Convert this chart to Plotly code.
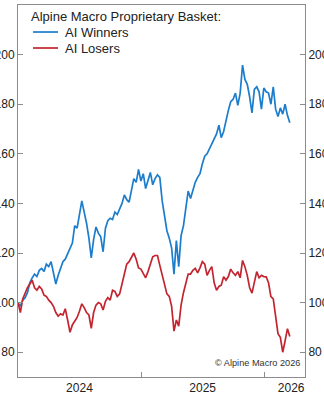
import pandas as pd
import plotly.graph_objects as go

# Weekly index levels (start = 100)
ai_winners = [
    100, 98.5, 101, 102, 104, 108, 110, 111.5, 110.5, 113,
    113.8, 112.5, 115.5, 114.5, 116.5, 111.5, 107.5, 111, 113.5, 116.5,
    117.5, 119.5, 122, 124, 131, 130, 135.5, 141, 136.5, 132,
    126, 118, 125.5, 130.5, 128, 126.5, 120.5, 130, 133, 134,
    133.5, 136.5, 135.5, 138, 140, 143.4, 141.5, 140.5, 146, 150,
    148.5, 153.7, 149, 152, 146, 149, 152.5, 147.5, 150, 151.5,
    150.5, 141, 134, 129, 126, 122, 111.5, 125, 114.5, 127,
    131, 138, 145, 142, 145, 148.5, 150.5, 152, 156, 159,
    160, 162, 164, 165.5, 168, 171.5, 166.5, 169, 174, 177.5,
    181, 182, 184.5, 179.5, 184.5, 195.8, 190, 188, 183, 176.5,
    186, 187, 185, 178, 186.5, 185, 184.5, 180, 187, 178,
    175, 178.5, 176, 180, 175.5, 172.5,
]
ai_losers = [
    100, 96, 101.5, 104, 106, 107.5, 109, 106, 105, 106.5,
    105.5, 103, 102.5, 101, 100, 98.5, 96, 94.5, 95.5, 95,
    97.5, 93, 88, 91, 92.5, 94, 96.5, 99.5, 98, 96,
    95, 89.6, 96, 99, 100, 99.5, 97, 100.5, 102, 101,
    105, 104.5, 102.5, 103.5, 107.5, 111.8, 115.5, 116.5, 118, 120,
    117.5, 114, 113.5, 111.5, 110, 112.5, 116, 118.5, 119, 119,
    115, 111.5, 107, 103.5, 102.5, 98.5, 88.5, 93, 90.5, 99,
    104, 108, 111.5, 111.5, 113, 113.8, 112, 114, 116.5, 115.5,
    111, 113, 114.5, 108, 105, 106.5, 107, 110.4, 109, 110.5,
    113.5, 112, 111, 112.5, 110, 117, 114.5, 111, 106, 103.8,
    108, 112.5, 110, 111, 110.5, 110.4, 108, 102.4, 101.5, 95,
    87.5, 86, 80, 84.5, 89.5, 86.3,
]
dates = pd.date_range("2024-01-01", periods=len(ai_winners), freq="7D")

series_names = ["AI Winners", "AI Losers"]
legend_title = "Alpine Macro Proprietary Basket:"
y_ticks = [80, 100, 120, 140, 160, 180, 200]
x_label_dates = ["2024-07-01", "2025-07-01", "2026-03-20"]
x_label_text = ["2024", "2025", "2026"]
year_starts = ["2025-01-01", "2026-01-01"]

BLUE = "#1b7dcc"
RED = "#c32530"
AXIS = "#8c8c8c"
TXT = "#222222"
FONT = "Arial, Liberation Sans, sans-serif"

fig = go.Figure()
fig.add_trace(go.Scatter(x=dates, y=ai_winners, mode="lines", name=series_names[0],
                         line=dict(color=BLUE, width=1.7)))
fig.add_trace(go.Scatter(x=dates, y=ai_losers, mode="lines", name=series_names[1],
                         line=dict(color=RED, width=1.7)))
fig.add_trace(go.Scatter(x=dates, y=ai_losers, mode="lines", yaxis="y2",
                         showlegend=False, hoverinfo="skip",
                         line=dict(color="rgba(0,0,0,0)", width=0)))

# Legend drawn as paper-positioned text and short line samples
legend_rows = [(0.9274, BLUE, series_names[0]), (0.8844, RED, series_names[1])]
shapes = []
annotations = [dict(
    text=legend_title, xref="paper", yref="paper", x=0.040, y=0.9704,
    xanchor="left", yanchor="middle", showarrow=False,
    font=dict(size=13, color=TXT),
)]
for ypos, col, name in legend_rows:
    shapes.append(dict(type="line", xref="paper", yref="paper",
                       x0=0.0523, x1=0.1394, y0=ypos, y1=ypos,
                       line=dict(color=col, width=1.7)))
    annotations.append(dict(
        text=name, xref="paper", yref="paper", x=0.157, y=ypos,
        xanchor="left", yanchor="middle", showarrow=False,
        font=dict(size=13, color=TXT),
    ))
annotations.append(dict(
    text="© Alpine Macro 2026", xref="paper", yref="paper",
    x=0.99, y=0.038, xanchor="right", yanchor="middle",
    showarrow=False, font=dict(size=9.2, color="#333"),
))

fig.update_layout(
    width=324, height=400,
    margin=dict(l=18, r=19, t=5, b=23),
    paper_bgcolor="white", plot_bgcolor="white",
    font=dict(family=FONT, size=12, color=TXT),
    showlegend=False,
    shapes=shapes,
    annotations=annotations,
    xaxis=dict(
        type="date", range=["2024-01-01", "2026-04-30"],
        tickmode="array", tickvals=x_label_dates, ticktext=x_label_text,
        ticks="", showgrid=False, zeroline=False,
        showline=True, linecolor=AXIS, linewidth=1, mirror=True,
        tickfont=dict(size=12, color=TXT),
        minor=dict(tickmode="array", tickvals=year_starts, ticks="inside",
                   ticklen=5, tickcolor=AXIS, tickwidth=1, showgrid=False),
        automargin=False,
    ),
    yaxis=dict(
        range=[70, 220], tickmode="array", tickvals=y_ticks,
        ticks="inside", ticklen=5, tickcolor=AXIS,
        showgrid=False, zeroline=False,
        showline=True, linecolor=AXIS, linewidth=1,
        tickfont=dict(size=12, color=TXT), automargin=False,
    ),
    yaxis2=dict(
        range=[70, 220], tickmode="array", tickvals=y_ticks,
        overlaying="y", side="right",
        ticks="inside", ticklen=5, tickcolor=AXIS,
        showgrid=False, zeroline=False,
        showline=True, linecolor=AXIS, linewidth=1,
        tickfont=dict(size=12, color=TXT), automargin=False,
    ),
)

fig.write_html("out.html")
